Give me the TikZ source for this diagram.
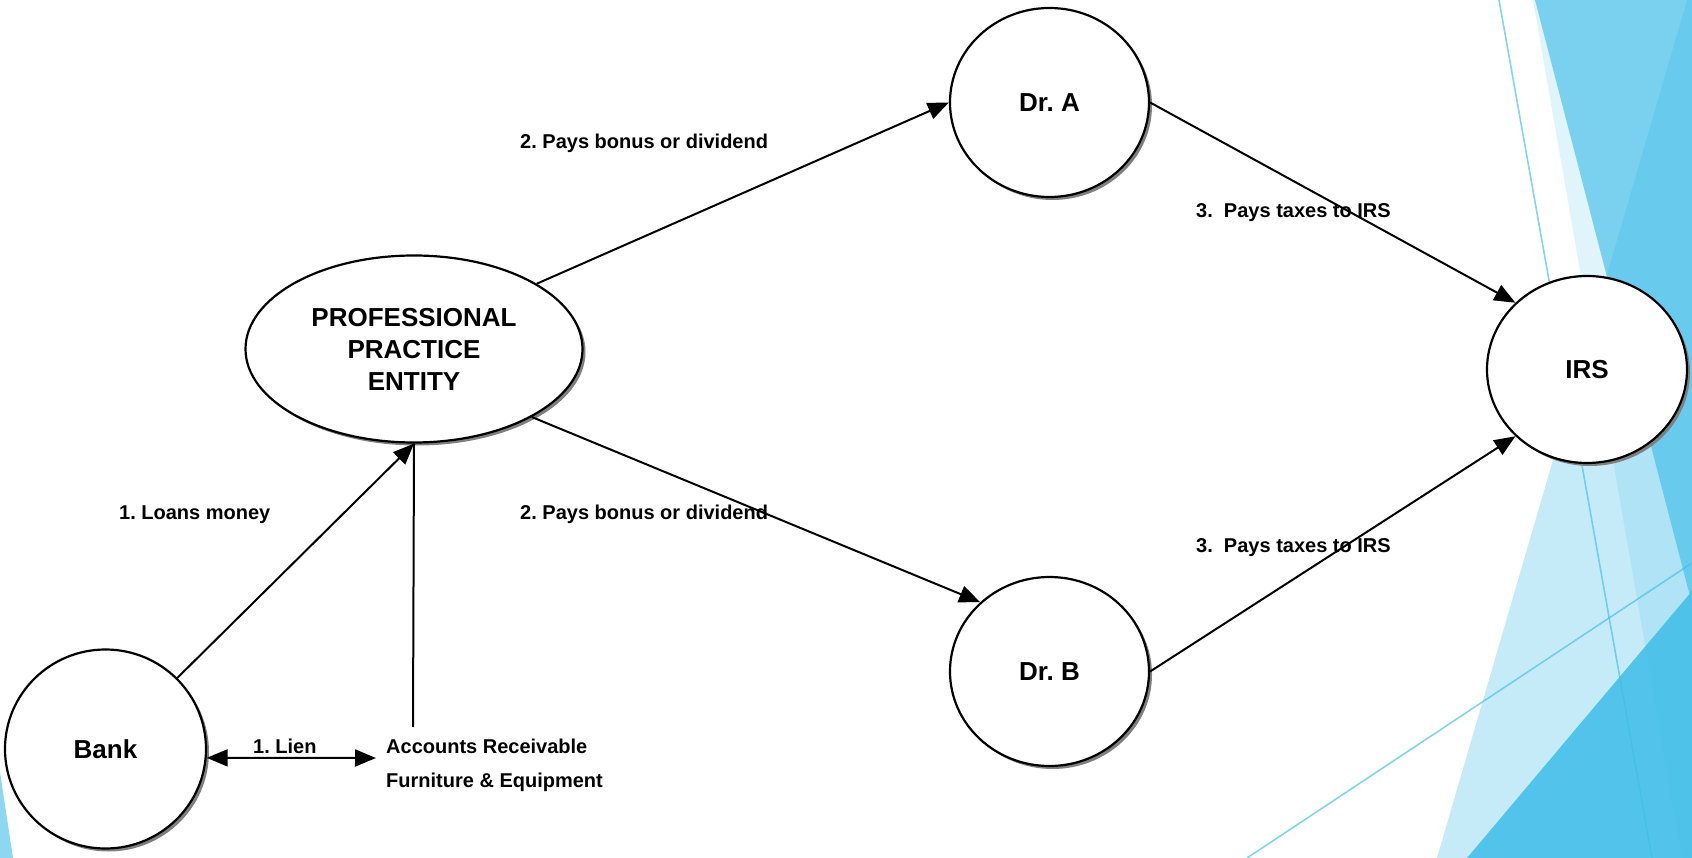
\documentclass[tikz,border=0pt]{standalone}
\usepackage{fontspec}
\setmainfont{Liberation Sans}
\usetikzlibrary{arrows.meta,shapes.geometric,shadows}
\definecolor{facet}{HTML}{41BDE8}
\definecolor{shade}{HTML}{7F7F7F}

\begin{document}
\frenchspacing
\begin{tikzpicture}[x=1pt,y=-1pt,
  bubble/.style={ellipse, draw=black, line width=2.2pt, fill=white, inner sep=0pt,
    drop shadow={shadow xshift=3pt, shadow yshift=-3pt, fill=shade, opacity=1},
    font=\fontsize{26}{32}\selectfont\bfseries, align=center},
  flow/.style={line width=2pt, -{Triangle[length=21pt,width=17pt]}},
  both/.style={line width=2pt, {Triangle[length=21pt,width=17pt]}-{Triangle[length=21pt,width=17pt]}},
  plain/.style={line width=2pt},
  lbl/.style={anchor=base west, inner sep=0pt, font=\fontsize{20}{24}\selectfont\bfseries},
  facetline/.style={draw=facet, draw opacity=0.65, line width=1.6pt},
]
\useasboundingbox (0,0) rectangle (1692,858);

% translucent facets along the right edge
\begin{scope}
  \clip (0,0) rectangle (1692,858);
  \fill[facet, opacity=0.17] (1533,0) -- (1692,0) -- (1692,858) -- (1682,858) -- cycle;
  \fill[facet, opacity=0.64] (1535,0) -- (1692,0) -- (1692,604) -- cycle;
  \fill[facet, opacity=0.30] (1687,0) -- (1692,0) -- (1692,858) -- (1437,858) -- cycle;
  \fill[facet, opacity=0.87] (1467,858) -- (1692,591) -- (1692,858) -- cycle;
  \draw[facetline] (1499,0) -- (1652,858);
  \draw[facetline] (1247,858) -- (1692,563);
  \fill[facet, opacity=0.6] (0,772) -- (13,858) -- (0,858) -- cycle;
\end{scope}

% parties
\node[bubble, minimum width=201pt, minimum height=199pt] (bank) at (105.5,749) {Bank};
\node[bubble, minimum width=337pt, minimum height=187pt] (ppe) at (414,349)
  {PROFESSIONAL\\PRACTICE\\ENTITY};
\node[bubble, minimum width=199pt, minimum height=189pt] (dra) at (1049.5,102.5) {Dr. A};
\node[bubble, minimum width=199pt, minimum height=189pt] (drb) at (1049.5,671.5) {Dr. B};
\node[bubble, minimum width=200pt, minimum height=187pt] (irs) at (1587,369.5) {IRS};

% collateral
\node[lbl] (ar) at (386,753) {Accounts Receivable};
\node[lbl] (fe) at (386,787) {Furniture \& Equipment};
\coordinate (collat) at (413,727);
\coordinate (lienEnd) at (376,758);

% flows
\draw[flow] (bank) -- (ppe.south);
\draw[plain] (collat) -- (ppe.south);
\draw[both] (bank.-5) -- (lienEnd);
\draw[flow] (ppe.28) -- (dra.west);
\draw[flow] (ppe.-30) -- (drb.135);
\draw[flow] (dra.east) -- (irs.137);
\draw[flow] (drb.east) -- (irs.223);

% flow labels
\node[lbl] (l2a) at (520,149) {2. Pays bonus or dividend};
\node[lbl] (l3a) at (1196,218) {3.\ \ Pays taxes to IRS};
\node[lbl] (l1) at (119,519) {1. Loans money};
\node[lbl] (l2b) at (520,519) {2. Pays bonus or dividend};
\node[lbl] (l3b) at (1196,552) {3.\ \ Pays taxes to IRS};
\node[lbl] (lien) at (253,753) {1. Lien};
\end{tikzpicture}
\end{document}
